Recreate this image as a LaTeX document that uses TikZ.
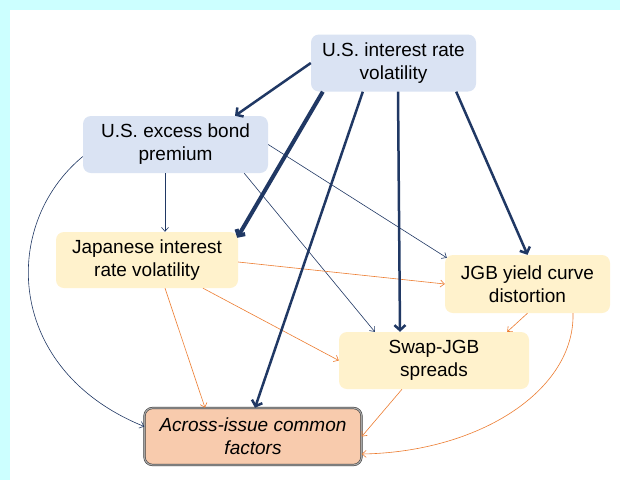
\documentclass[tikz,border=0pt]{standalone}
\usepackage{fontspec}
\setmainfont{Liberation Sans}
\usetikzlibrary{arrows.meta,calc}
\definecolor{navy}{HTML}{203864}
\definecolor{orng}{HTML}{ED7D31}
\definecolor{bluefill}{HTML}{DAE3F3}
\definecolor{yelfill}{HTML}{FFF2CC}
\definecolor{accfill}{HTML}{F8CBAD}
\definecolor{bgcyan}{HTML}{CCFFFF}
\tikzset{
  box/.style={rounded corners=8pt, inner sep=0pt, align=center,
    font=\fontsize{19}{23}\selectfont, text=black},
  bluebox/.style={box, fill=bluefill},
  yelbox/.style={box, fill=yelfill},
  accbox/.style={box, fill=accfill, draw=black!80, double=gray!70,
    double distance=1.2pt, line width=0.5pt, font=\fontsize{19}{23}\selectfont\itshape},
  thick arrow/.style={draw=navy, line width=2.5pt, -{Straight Barb[length=5pt,width=11pt]}},
  thicker arrow/.style={draw=navy, line width=4pt, -{Straight Barb[length=4.5pt,width=10pt]}},
  thin navy/.style={draw=navy, line width=0.6pt, -{Straight Barb[length=4pt,width=7pt]}},
  thin orng/.style={draw=orng, line width=0.6pt, -{Straight Barb[length=4pt,width=7pt]}},
}
\begin{document}
\begin{tikzpicture}[x=1pt,y=-1pt]
\useasboundingbox (0,0) rectangle (620,480);
\fill[bgcyan] (0,0) rectangle (620,480);
\fill[white] (10,10) rectangle (620,480);

\node[bluebox, minimum width=165pt, minimum height=57pt] (usv) at (393.5,63) {U.S. interest rate\\volatility};
\node[bluebox, minimum width=185pt, minimum height=57pt] (ebp) at (175.5,144.5) {U.S. excess bond\\premium};
\node[yelbox, minimum width=182pt, minimum height=56pt] (jiv) at (147,260) {Japanese interest\\rate volatility};
\node[yelbox, minimum width=165pt, minimum height=58pt] (jgb) at (527.5,284) {JGB yield curve\\distortion};
\node[yelbox, minimum width=190pt, minimum height=57pt] (swap) at (434,360.5) {Swap-JGB\\spreads};
\node[accbox, minimum width=217pt, minimum height=57pt] (acr) at (253,436.5) {Across-issue common\\factors};

% thin navy
\draw[thin navy] ([xshift=-10.5pt]ebp.south) -- ([xshift=18pt]jiv.north);
\draw[thin navy] ([xshift=-24pt]ebp.south east) -- ([xshift=36pt]swap.north west);
\draw[thin navy] (ebp.east) -- ([xshift=2pt,yshift=-3pt]jgb.north west);
\draw[thin navy] ([yshift=-12pt]ebp.west) .. controls (0,225) and (5,370) .. ([yshift=10pt]acr.west);

% thin orange
\draw[thin orng] ([yshift=-2pt]jiv.east) -- (jgb.west);
\draw[thin orng] ([xshift=56pt]jiv.south) -- (swap.west);
\draw[thin orng] ([xshift=18pt]jiv.south) -- ([xshift=-48pt]acr.north);
\draw[thin orng] (jgb.south) -- ([xshift=-22pt]swap.north east);
\draw[thin orng] ([xshift=-32pt]swap.south) -- (acr.east);
\draw[thin orng] ([xshift=45.5pt]jgb.south) .. controls (575,390) and (480,452) .. ([yshift=-17.5pt]acr.east);

% thick navy
\draw[thick arrow] (usv.west) -- ([xshift=59.5pt]ebp.north);
\draw[thicker arrow] ([xshift=12pt]usv.south west) -- ([xshift=-1pt,yshift=-6pt]jiv.north east);
\draw[thick arrow] ([xshift=52pt]usv.south west) -- ([xshift=2pt]acr.north);
\draw[thick arrow] ([xshift=4.5pt]usv.south) -- ([xshift=-34pt]swap.north);
\draw[thick arrow] ([xshift=-20pt]usv.south east) -- (jgb.north);
\end{tikzpicture}
\end{document}
